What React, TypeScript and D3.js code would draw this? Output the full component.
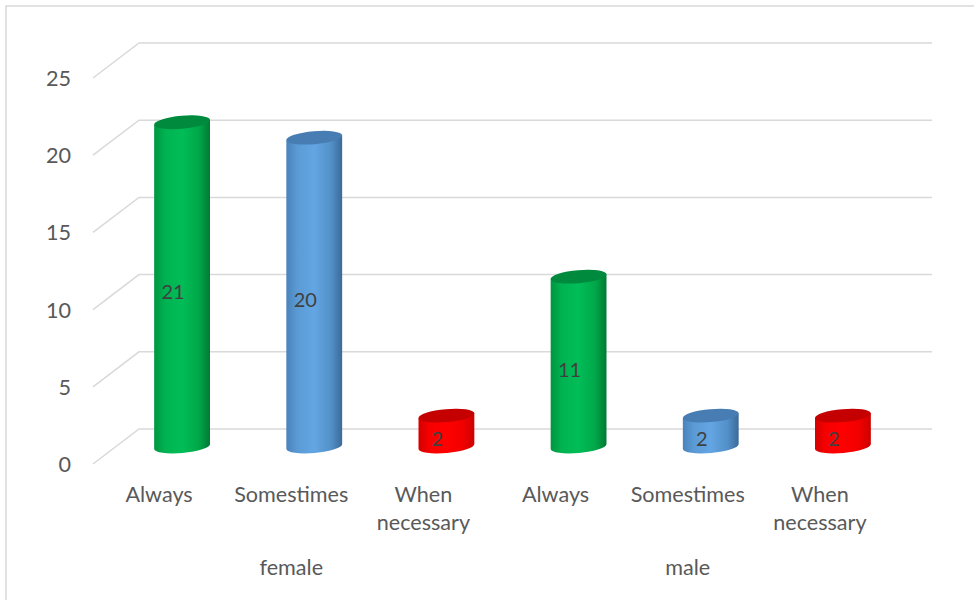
import * as d3 from 'd3'

const groups = ['female', 'male']
const categories = ['Always', 'Somestimes', 'When necessary']
const femaleValues = [21, 20, 2]
const maleValues = [11, 2, 2]
const yTicks = [0, 5, 10, 15, 20, 25]

// body gradient stops + top colour per category
const PALETTE = {
  Always: { top: '#008a3d', stops: ['#00953f', '#00b352', '#00bd57', '#00a749', '#007a33'] },
  Somestimes: { top: '#487db3', stops: ['#4a82bb', '#5b9bd5', '#63a6e3', '#5290c8', '#3b6a99'] },
  'When necessary': { top: '#c40000', stops: ['#d40000', '#f80000', '#ff0000', '#f00000', '#cc0000'] },
}

const W = 974
const H = 600
const DEPTH = { dx: -46, dy: 35 }
const FONT = 'Lato, "Open Sans", sans-serif'

const rows = groups.flatMap((g, gi) =>
  categories.map((c, ci) => ({
    key: `${g}-${c}`,
    group: g,
    cat: c,
    value: (gi === 0 ? femaleValues : maleValues)[ci],
  }))
)

export default function App() {
  const y = d3.scaleLinear().domain([0, 25]).range([429, 43])
  const backX0 = 139
  const backX1 = 932
  const mid = { dx: DEPTH.dx / 2, dy: DEPTH.dy / 2 }

  const x = d3
    .scaleBand()
    .domain(rows.map((d) => d.key))
    .range([backX0 + mid.dx, backX1 + mid.dx])
    .padding(0)

  const rx = x.bandwidth() * 0.212
  const ry = 6.5
  const tilt = -5
  const t = (tilt * Math.PI) / 180
  const ex = rx * Math.cos(t)
  const ey = rx * Math.sin(t)

  const cyl = (d) => {
    const cx = x(d.key) + x.bandwidth() / 2
    const yTop = y(d.value) + mid.dy
    const yBot = y(0) + mid.dy
    const body = [
      `M${cx - ex},${yTop - ey}`,
      `L${cx - ex},${yBot - ey}`,
      `A${rx},${ry} ${tilt} 0 0 ${cx + ex},${yBot + ey}`,
      `L${cx + ex},${yTop + ey}`,
      'Z',
    ].join(' ')
    return { cx, yTop, yBot, body }
  }

  return (
    <svg
      width={W}
      height={H}
      style={{ position: 'absolute', left: 0, top: 0, background: '#fff' }}
      fontFamily={FONT}
    >
      <defs>
        {categories.map((c, i) => (
          <linearGradient key={c} id={`grad-${i}`} x1="0" x2="1" y1="0" y2="0">
            {PALETTE[c].stops.map((s, j) => (
              <stop key={j} offset={[0, 0.2, 0.5, 0.8, 1][j]} stopColor={s} />
            ))}
          </linearGradient>
        ))}
      </defs>

      <rect x={6} y={6} width={990} height={620} fill="none" stroke="#d9d9d9" strokeWidth={1.5} />

      {/* grid: back wall + side wall */}
      {yTicks.map((v) => (
        <g key={v}>
          <path
            d={`M${backX0 + DEPTH.dx},${y(v) + DEPTH.dy} L${backX0},${y(v)} L${backX1},${y(v)}`}
            fill="none"
            stroke="#d9d9d9"
            strokeWidth={1.5}
          />
          <text
            x={71}
            y={y(v) + DEPTH.dy}
            textAnchor="end"
            dominantBaseline="central"
            fontSize={21.6}
            fill="#595959"
          >
            {v}
          </text>
        </g>
      ))}

      {/* cylinders */}
      {rows.map((d) => {
        const ci = categories.indexOf(d.cat)
        const c = cyl(d)
        return (
          <g key={d.key}>
            <path d={c.body} fill={`url(#grad-${ci})`} />
            <ellipse
              cx={c.cx}
              cy={c.yTop}
              rx={rx}
              ry={ry}
              transform={`rotate(${tilt},${c.cx},${c.yTop})`}
              fill={PALETTE[d.cat].top}
            />
            <text
              x={c.cx - 9}
              y={(c.yTop + c.yBot) / 2 + 7}
              textAnchor="middle"
              dominantBaseline="central"
              fontSize={20}
              fill="#404040"
            >
              {d.value}
            </text>
          </g>
        )
      })}

      {/* category labels */}
      {rows.map((d) => {
        const lx = x(d.key) + x.bandwidth() / 2 + mid.dx
        return (
          <text key={d.key} x={lx} y={501.5} textAnchor="middle" fontSize={21.6} fill="#595959">
            {d.cat.split(' ').map((w, i) => (
              <tspan key={i} x={lx} dy={i === 0 ? 0 : 28.5}>
                {w}
              </tspan>
            ))}
          </text>
        )
      })}

      {/* group labels */}
      {groups.map((g) => {
        const keys = rows.filter((d) => d.group === g).map((d) => d.key)
        const gx = d3.mean(keys, (k) => x(k) + x.bandwidth() / 2) + mid.dx
        return (
          <text key={g} x={gx} y={575} textAnchor="middle" fontSize={21.6} fill="#595959">
            {g}
          </text>
        )
      })}
    </svg>
  )
}
